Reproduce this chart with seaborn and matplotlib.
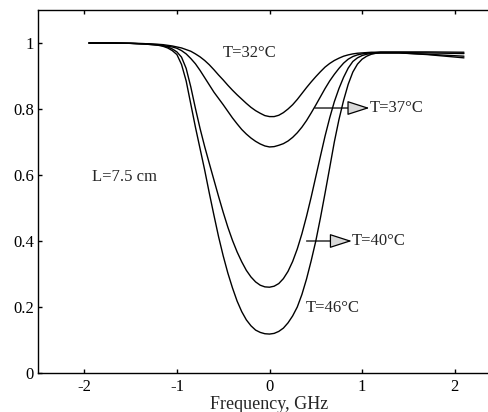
import matplotlib
matplotlib.use("Agg")
import matplotlib.pyplot as plt
import pandas as pd
import seaborn as sns

# frequency points (GHz) shared by all curves
FREQ = [-1.95, -1.7, -1.5, -1.35,
        -1.2, -1.15, -1.1, -1.05, -1.0, -0.95, -0.9, -0.85, -0.8, -0.75, -0.7,
        -0.65, -0.6, -0.55, -0.5, -0.45, -0.4, -0.35, -0.3, -0.25, -0.2, -0.15,
        -0.1, -0.05, 0.0, 0.05, 0.1, 0.15, 0.2, 0.25, 0.3, 0.35, 0.4, 0.45, 0.5,
        0.55, 0.6, 0.65, 0.7, 0.75, 0.8, 0.85, 0.9, 0.95, 1.0, 1.05, 1.1, 1.15,
        1.2,
        1.4, 1.7, 2.1]

T32 = [1.0, 1.0, 0.999, 0.998,
       0.996, 0.995, 0.993, 0.991, 0.988, 0.985, 0.980, 0.975, 0.967, 0.958,
       0.947, 0.934, 0.919, 0.903, 0.888, 0.872, 0.857, 0.843, 0.830, 0.817,
       0.805, 0.795, 0.787, 0.780, 0.777, 0.777, 0.781, 0.789, 0.800, 0.813,
       0.829, 0.847, 0.865, 0.882, 0.898, 0.913, 0.927, 0.938, 0.947, 0.954,
       0.960, 0.964, 0.967, 0.969, 0.970, 0.971, 0.972, 0.972, 0.973,
       0.973, 0.973, 0.972]
T37 = [1.0, 1.0, 0.999, 0.997,
       0.994, 0.992, 0.990, 0.988, 0.984, 0.977, 0.967, 0.953, 0.937, 0.917,
       0.895, 0.873, 0.851, 0.832, 0.813, 0.793, 0.773, 0.755, 0.738, 0.724,
       0.712, 0.702, 0.694, 0.688, 0.685, 0.686, 0.690, 0.695, 0.703, 0.714,
       0.728, 0.745, 0.765, 0.788, 0.812, 0.837, 0.862, 0.885, 0.905, 0.923,
       0.939, 0.951, 0.959, 0.964, 0.967, 0.969, 0.970, 0.971, 0.971,
       0.971, 0.970, 0.968]
T40 = [1.0, 1.0, 0.999, 0.998,
       0.995, 0.992, 0.988, 0.982, 0.973, 0.957, 0.923, 0.867, 0.802, 0.741,
       0.686, 0.635, 0.585, 0.535, 0.487, 0.442, 0.402, 0.367, 0.337, 0.311,
       0.291, 0.276, 0.266, 0.261, 0.260, 0.263, 0.271, 0.286, 0.308, 0.338,
       0.376, 0.422, 0.475, 0.533, 0.595, 0.657, 0.718, 0.773, 0.822, 0.862,
       0.896, 0.924, 0.944, 0.955, 0.962, 0.966, 0.968, 0.969, 0.970,
       0.970, 0.966, 0.960]
T46 = [1.0, 1.0, 0.999, 0.997,
       0.993, 0.990, 0.985, 0.977, 0.965, 0.935, 0.885, 0.815, 0.745, 0.680,
       0.615, 0.545, 0.478, 0.413, 0.355, 0.303, 0.258, 0.218, 0.186, 0.161,
       0.143, 0.130, 0.123, 0.119, 0.118, 0.120, 0.126, 0.136, 0.152, 0.173,
       0.200, 0.238, 0.285, 0.340, 0.400, 0.470, 0.545, 0.622, 0.700, 0.768,
       0.826, 0.875, 0.912, 0.936, 0.951, 0.960, 0.966, 0.969, 0.970,
       0.970, 0.965, 0.955]

CURVES = {"T=32": T32, "T=37": T37, "T=40": T40, "T=46": T46}

sns.set_theme(style="ticks")
plt.rcParams["font.family"] = ["Liberation Serif", "DejaVu Serif"]

fig = plt.figure(figsize=(4.89, 4.12), dpi=100)
# right spine lies outside the cropped picture, as in the scan
ax = fig.add_axes([38 / 489, 39 / 412, 463 / 489, 363 / 412])

for name, vals in CURVES.items():
    df = pd.DataFrame({"f": FREQ, "s": vals})
    sns.lineplot(data=df, x="f", y="s", ax=ax, color="black", lw=1.0, sort=False)

ax.set_xlim(-2.5, 2.5)
ax.set_ylim(0, 1.1)
ax.set_xticks([-2, -1, 0, 1, 2])
ax.set_xticklabels(["-2", "-1", "0", "1", "2"])
ax.set_yticks([0, 0.2, 0.4, 0.6, 0.8, 1.0])
ax.set_yticklabels(["0", "0.2", "0.4", "0.6", "0.8", "1"])
ax.tick_params(direction="in", length=3, width=1.0, labelsize=12, colors="black",
               top=True, right=False, pad=4)
ax.tick_params(axis="y", pad=3)
for side in ["left", "bottom", "top", "right"]:
    ax.spines[side].set_visible(True)
    ax.spines[side].set_linewidth(1.0)
    ax.spines[side].set_color("black")
ax.set_xlabel("Frequency, GHz", fontsize=13, labelpad=1)
ax.set_ylabel("")

fs = 12
ax.text(-0.51, 0.97, "T=32°C", fontsize=fs, ha="left", va="center")
ax.text(1.08, 0.803, "T=37°C", fontsize=fs, ha="left", va="center")
ax.text(0.89, 0.40, "T=40°C", fontsize=fs, ha="left", va="center")
ax.text(0.39, 0.197, "T=46°C", fontsize=fs, ha="left", va="center")
ax.text(-1.92, 0.594, "L=7.5 cm", fontsize=fs, ha="left", va="center")

arrow = dict(arrowstyle="-|>,head_length=1.4,head_width=0.45", mutation_scale=10,
             fc="#d9d9d9", ec="black", lw=0.9, shrinkA=0, shrinkB=0)
ax.annotate("", xy=(1.08, 0.803), xytext=(0.49, 0.803), arrowprops=arrow)
ax.annotate("", xy=(0.89, 0.40), xytext=(0.40, 0.40), arrowprops=arrow)

fig.savefig("out.png", dpi=100)
